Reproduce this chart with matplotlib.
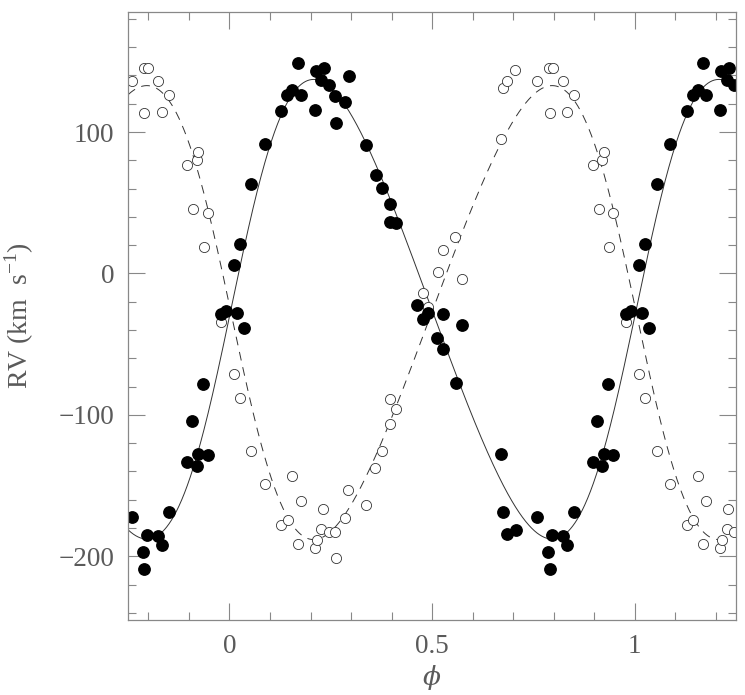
import numpy as np
import matplotlib
matplotlib.use("Agg")
import matplotlib.pyplot as plt
from matplotlib.ticker import MultipleLocator

# primary star (filled circles): orbital phase, RV in km/s
phase1 = [0.011, 0.019, 0.025, 0.035, 0.054, 0.087, 0.128, 0.143, 0.155, 0.169,
          0.176, 0.211, 0.214, 0.227, 0.233, 0.246, 0.260, 0.262, 0.284, 0.294,
          0.338, 0.361, 0.377, 0.397, 0.397, 0.410, 0.463, 0.477, 0.491, 0.513,
          0.528, 0.528, 0.559, 0.573, 0.669, 0.674, 0.684, 0.707, 0.759, 0.787,
          0.790, 0.797, 0.823, 0.833, 0.851, 0.896, 0.908, 0.919, 0.923, 0.935,
          0.946, 0.979, 0.991]
rv1 = [5.9, -28.2, 20.7, -38.6, 63.5, 91.3, 114.8, 126.3, 129.4, 148.6,
       126.3, 115.7, 143.0, 136.9, 145.1, 133.6, 125.3, 106.6, 121.1, 139.5,
       91.0, 69.9, 60.7, 49.4, 36.4, 36.0, -22.4, -32.5, -27.8, -45.9,
       -28.7, -53.6, -77.6, -36.5, -127.5, -168.9, -184.2, -181.6, -172.2, -197.2,
       -208.9, -185.2, -185.4, -191.7, -168.9, -133.4, -104.0, -136.5, -127.5, -78.4,
       -128.7, -28.7, -26.4]

# secondary star (open circles)
phase2 = [0.011, 0.025, 0.054, 0.087, 0.128, 0.144, 0.155, 0.169, 0.176, 0.210,
          0.216, 0.227, 0.231, 0.246, 0.261, 0.262, 0.284, 0.293, 0.338, 0.360,
          0.377, 0.397, 0.397, 0.410, 0.478, 0.491, 0.515, 0.528, 0.557, 0.573,
          0.670, 0.674, 0.684, 0.705, 0.759, 0.788, 0.790, 0.798, 0.823, 0.833,
          0.851, 0.896, 0.911, 0.919, 0.923, 0.937, 0.947, 0.979]
rv2 = [-71.3, -87.8, -125.2, -148.9, -178.1, -174.1, -143.5, -191.2, -161.2, -194.1,
       -188.2, -180.7, -166.6, -182.8, -182.8, -201.1, -172.9, -152.9, -164.0, -137.6,
       -125.4, -106.6, -88.9, -96.0, -14.1, -24.0, 1.1, 16.4, 25.8, -4.2,
       94.8, 131.3, 136.4, 144.0, 136.4, 145.1, 113.3, 145.1, 136.4, 114.5,
       126.3, 76.9, 45.4, 80.5, 85.8, 18.8, 43.0, -34.1]

# orbital solution drawn as the model curves
gamma = -26.5
K1 = 162.5
K2 = 160.5
ecc = 0.14
omega = np.radians(-87.0)
T0 = 0.01

XMIN, XMAX = -0.25, 1.25


def unfold(ph, rv):
    ph = np.asarray(ph)
    rv = np.asarray(rv)
    xs, ys = [], []
    for k in (-1, 0, 1):
        p = ph + k
        m = (p >= XMIN - 0.005) & (p <= XMAX + 0.005)
        xs.append(p[m])
        ys.append(rv[m])
    return np.concatenate(xs), np.concatenate(ys)


def kepler_curve(ph):
    M = 2 * np.pi * (ph - T0)
    E = M.copy()
    for _ in range(50):
        E = E - (E - ecc * np.sin(E) - M) / (1 - ecc * np.cos(E))
    nu = 2 * np.arctan2(np.sqrt(1 + ecc) * np.sin(E / 2), np.sqrt(1 - ecc) * np.cos(E / 2))
    return np.cos(nu + omega) + ecc * np.cos(omega)


phi = np.linspace(XMIN, XMAX, 1500)
shape = kepler_curve(phi)

grey = "#5a5a5a"
plt.rcParams["font.family"] = ["Liberation Serif", "DejaVu Serif"]
plt.rcParams["mathtext.fontset"] = "custom"
plt.rcParams["mathtext.rm"] = "Liberation Serif"
plt.rcParams["mathtext.it"] = "DejaVu Serif:italic"

fig = plt.figure(figsize=(7.45, 6.95), dpi=100)
ax = fig.add_axes([0.172, 0.108, 0.816, 0.875])

ax.plot(phi, gamma + K1 * shape, color="#333333", lw=0.7)
ax.plot(phi, gamma - K2 * shape, color="#333333", lw=0.7, dashes=(9, 7))

x1, y1 = unfold(phase1, rv1)
x2, y2 = unfold(phase2, rv2)
ax.plot(x2, y2, "o", ms=7.3, mfc="white", mec="#333333", mew=0.6, ls="none")
ax.plot(x1, y1, "o", ms=8.2, mfc="black", mec="black", ls="none")

ax.set_xlim(XMIN, XMAX)
ax.set_ylim(-245, 185)
ax.xaxis.set_minor_locator(MultipleLocator(0.1))
ax.yaxis.set_minor_locator(MultipleLocator(20))
ax.set_xticks([0, 0.5, 1])
ax.set_xticklabels(["0", "0.5", "1"])
ax.set_yticks([-200, -100, 0, 100])
ax.set_yticklabels(["\u2212200", "\u2212100", "0", "100"])

ax.tick_params(which="both", direction="in", top=True, right=True,
               colors="#888888", labelcolor=grey, labelsize=19.5, width=0.8)
ax.tick_params(which="major", length=12, pad=10)
ax.tick_params(which="minor", length=6)
for s in ax.spines.values():
    s.set_color("#888888")
    s.set_linewidth(0.9)

ax.set_xlabel(r"$\phi$", fontsize=19, color=grey)
ax.xaxis.set_label_coords(0.5, -0.071)
ax.set_ylabel(r"RV (km  s$^{-1}$)", fontsize=20, color=grey)
ax.yaxis.set_label_coords(-0.152, 0.5)

fig.savefig("out.png", dpi=100)
